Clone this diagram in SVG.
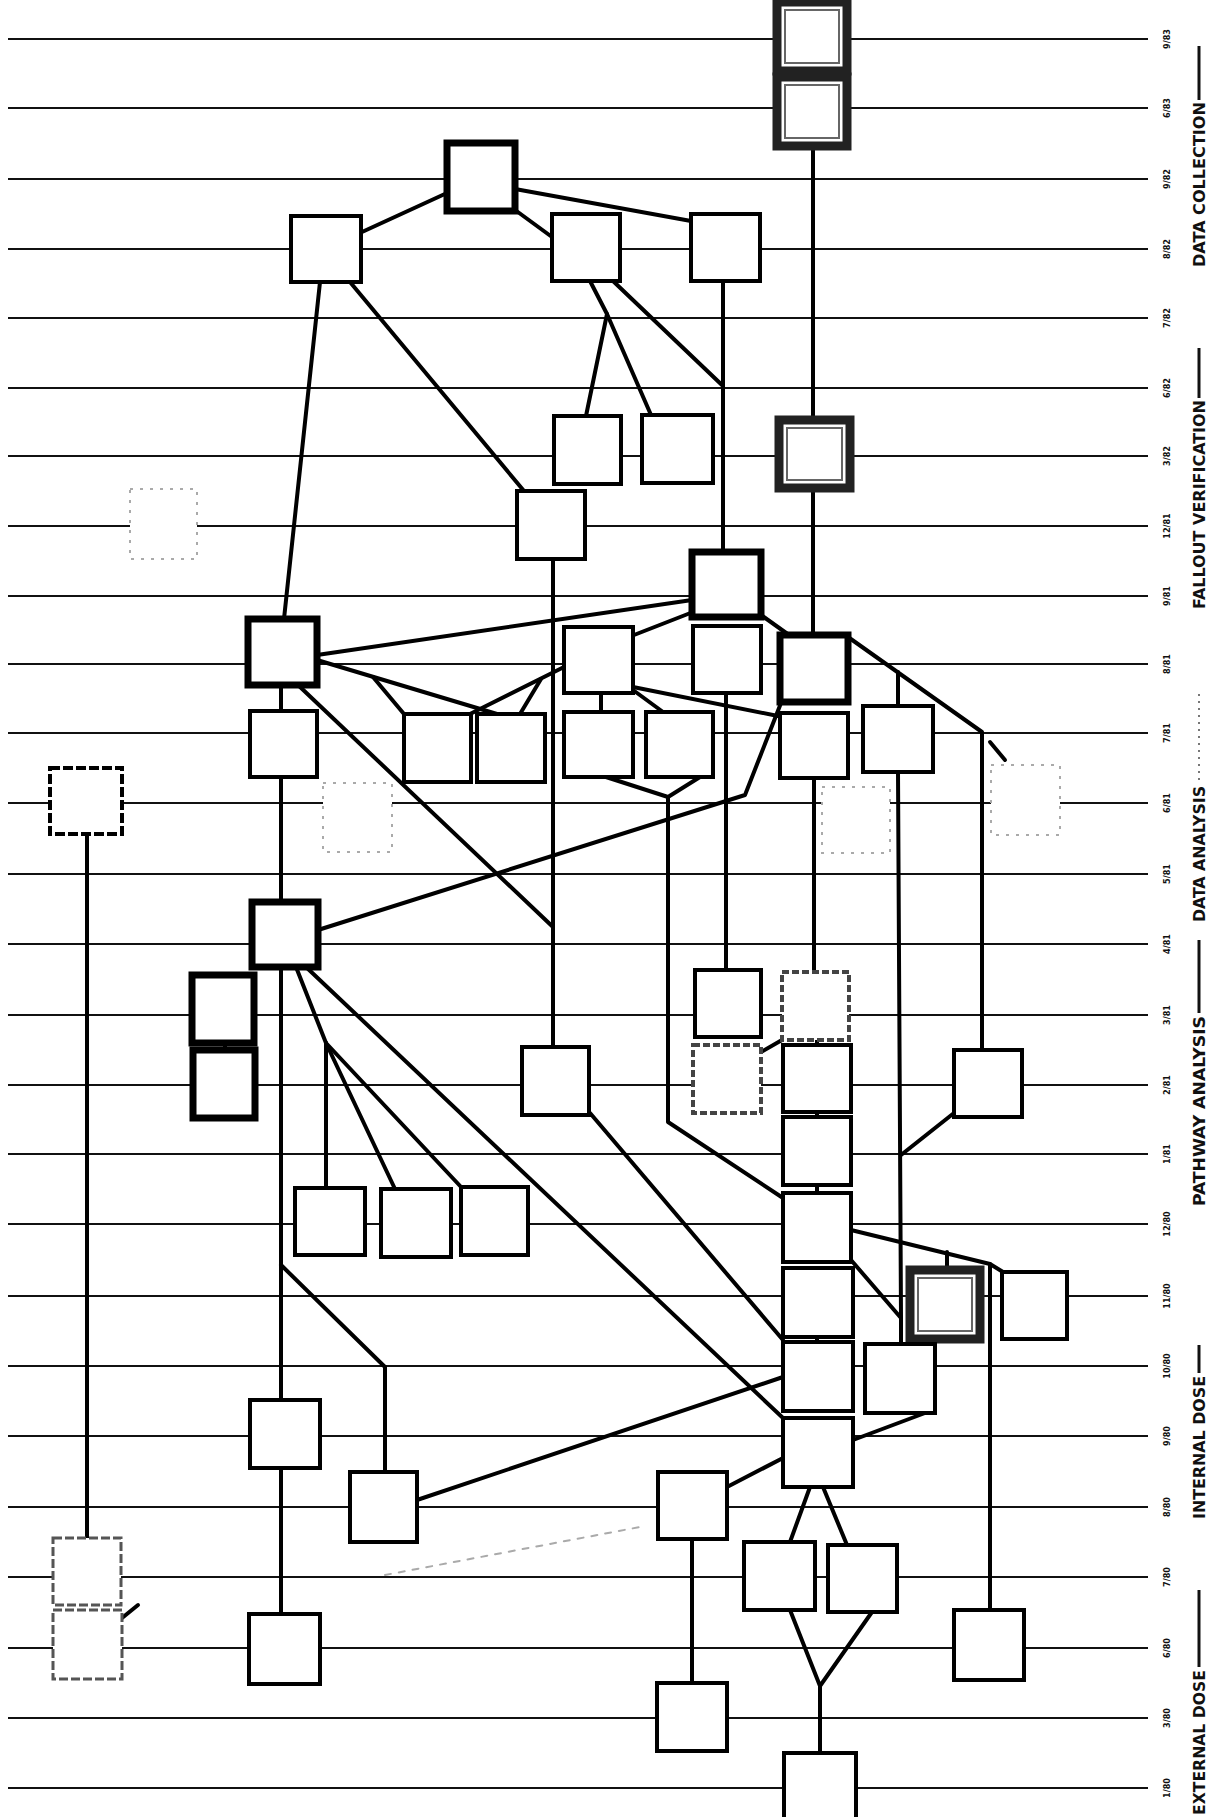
<svg xmlns="http://www.w3.org/2000/svg" width="1215" height="1817" viewBox="0 0 1215 1817">
<style>
.grid{stroke:#111;stroke-width:2}
.conn{stroke:#000;stroke-width:4;fill:none;stroke-linejoin:round;stroke-linecap:round}
.box{fill:#fff;stroke:#000;stroke-width:4}
.heavy{fill:#fff;stroke:#000;stroke-width:7}
.dbl{fill:#fff;stroke:#222;stroke-width:9}
.dblin{fill:none;stroke:#666;stroke-width:2}
.gdash{fill:#fff;stroke:#444;stroke-width:4;stroke-dasharray:7 3}
.light{fill:#fff;stroke:#555;stroke-width:3;stroke-dasharray:9 3}
.faint{fill:#fff;stroke:#aaa;stroke-width:2;stroke-dasharray:3 7}
.tick{font-family:"Liberation Sans Narrow","DejaVu Sans Condensed","Liberation Sans",sans-serif;font-weight:bold;font-size:9px;fill:#111}
.sec{font-family:"Liberation Sans Narrow","DejaVu Sans Condensed","Liberation Sans",sans-serif;font-weight:bold;font-size:16px;fill:#111}
</style>
<rect width="1215" height="1817" fill="#fff"/>
<g id="grid">
<line class="grid" x1="8" y1="39" x2="1148" y2="39"/>
<line class="grid" x1="8" y1="108" x2="1148" y2="108"/>
<line class="grid" x1="8" y1="179" x2="1148" y2="179"/>
<line class="grid" x1="8" y1="249" x2="1148" y2="249"/>
<line class="grid" x1="8" y1="318" x2="1148" y2="318"/>
<line class="grid" x1="8" y1="388" x2="1148" y2="388"/>
<line class="grid" x1="8" y1="456" x2="1148" y2="456"/>
<line class="grid" x1="8" y1="526" x2="1148" y2="526"/>
<line class="grid" x1="8" y1="596" x2="1148" y2="596"/>
<line class="grid" x1="8" y1="664" x2="1148" y2="664"/>
<line class="grid" x1="8" y1="733" x2="1148" y2="733"/>
<line class="grid" x1="8" y1="803" x2="1148" y2="803"/>
<line class="grid" x1="8" y1="874" x2="1148" y2="874"/>
<line class="grid" x1="8" y1="944" x2="1148" y2="944"/>
<line class="grid" x1="8" y1="1015" x2="1148" y2="1015"/>
<line class="grid" x1="8" y1="1085" x2="1148" y2="1085"/>
<line class="grid" x1="8" y1="1154" x2="1148" y2="1154"/>
<line class="grid" x1="8" y1="1224" x2="1148" y2="1224"/>
<line class="grid" x1="8" y1="1296" x2="1148" y2="1296"/>
<line class="grid" x1="8" y1="1366" x2="1148" y2="1366"/>
<line class="grid" x1="8" y1="1436" x2="1148" y2="1436"/>
<line class="grid" x1="8" y1="1507" x2="1148" y2="1507"/>
<line class="grid" x1="8" y1="1577" x2="1148" y2="1577"/>
<line class="grid" x1="8" y1="1648" x2="1148" y2="1648"/>
<line class="grid" x1="8" y1="1718" x2="1148" y2="1718"/>
<line class="grid" x1="8" y1="1788" x2="1148" y2="1788"/>
</g>
<g id="ticks" class="tick" text-anchor="middle">
<text transform="translate(1170,39) rotate(-90)">9/83</text>
<text transform="translate(1170,108) rotate(-90)">6/83</text>
<text transform="translate(1170,179) rotate(-90)">9/82</text>
<text transform="translate(1170,249) rotate(-90)">8/82</text>
<text transform="translate(1170,318) rotate(-90)">7/82</text>
<text transform="translate(1170,388) rotate(-90)">6/82</text>
<text transform="translate(1170,456) rotate(-90)">3/82</text>
<text transform="translate(1170,526) rotate(-90)">12/81</text>
<text transform="translate(1170,596) rotate(-90)">9/81</text>
<text transform="translate(1170,664) rotate(-90)">8/81</text>
<text transform="translate(1170,733) rotate(-90)">7/81</text>
<text transform="translate(1170,803) rotate(-90)">6/81</text>
<text transform="translate(1170,874) rotate(-90)">5/81</text>
<text transform="translate(1170,944) rotate(-90)">4/81</text>
<text transform="translate(1170,1015) rotate(-90)">3/81</text>
<text transform="translate(1170,1085) rotate(-90)">2/81</text>
<text transform="translate(1170,1154) rotate(-90)">1/81</text>
<text transform="translate(1170,1224) rotate(-90)">12/80</text>
<text transform="translate(1170,1296) rotate(-90)">11/80</text>
<text transform="translate(1170,1366) rotate(-90)">10/80</text>
<text transform="translate(1170,1436) rotate(-90)">9/80</text>
<text transform="translate(1170,1507) rotate(-90)">8/80</text>
<text transform="translate(1170,1577) rotate(-90)">7/80</text>
<text transform="translate(1170,1648) rotate(-90)">6/80</text>
<text transform="translate(1170,1718) rotate(-90)">3/80</text>
<text transform="translate(1170,1788) rotate(-90)">1/80</text>
</g>
<g id="phases" class="sec">
<text transform="translate(1205,267) rotate(-90)" textLength="165" lengthAdjust="spacingAndGlyphs">DATA COLLECTION</text>
<line x1="1199" y1="100" x2="1199" y2="46" stroke="#111" stroke-width="3"/>
<text transform="translate(1205,609) rotate(-90)" textLength="209" lengthAdjust="spacingAndGlyphs">FALLOUT VERIFICATION</text>
<line x1="1199" y1="398" x2="1199" y2="348" stroke="#111" stroke-width="3"/>
<text transform="translate(1205,922) rotate(-90)" textLength="136" lengthAdjust="spacingAndGlyphs">DATA ANALYSIS</text>
<line x1="1199" y1="780" x2="1199" y2="690" stroke="#777" stroke-width="2" stroke-dasharray="2 5"/>
<text transform="translate(1205,1206) rotate(-90)" textLength="190" lengthAdjust="spacingAndGlyphs">PATHWAY ANALYSIS</text>
<line x1="1199" y1="1013" x2="1199" y2="940" stroke="#111" stroke-width="3"/>
<text transform="translate(1205,1519) rotate(-90)" textLength="143" lengthAdjust="spacingAndGlyphs">INTERNAL DOSE</text>
<line x1="1199" y1="1373" x2="1199" y2="1345" stroke="#111" stroke-width="3"/>
<text transform="translate(1205,1815) rotate(-90)" textLength="145" lengthAdjust="spacingAndGlyphs">EXTERNAL DOSE</text>
<line x1="1199" y1="1667" x2="1199" y2="1590" stroke="#111" stroke-width="3"/>
</g>
<g id="connectors" class="conn">
<line x1="447" y1="193" x2="362" y2="232"/>
<line x1="515" y1="189" x2="691" y2="221"/>
<line x1="511" y1="207" x2="552" y2="237"/>
<line x1="320" y1="282" x2="284" y2="619"/>
<line x1="350" y1="282" x2="524" y2="491"/>
<polyline points="590,281 607,314 586,416"/>
<line x1="607" y1="314" x2="651" y2="415"/>
<line x1="613" y1="281" x2="723" y2="386"/>
<line x1="723" y1="281" x2="723" y2="552"/>
<line x1="813" y1="146" x2="813" y2="420"/>
<line x1="813" y1="488" x2="813" y2="635"/>
<line x1="553" y1="559" x2="553" y2="1047"/>
<line x1="317" y1="655" x2="692" y2="600"/>
<line x1="317" y1="660" x2="497" y2="714"/>
<line x1="373" y1="677" x2="404" y2="714"/>
<line x1="564" y1="667" x2="470" y2="714"/>
<line x1="541" y1="679" x2="520" y2="714"/>
<line x1="693" y1="612" x2="634" y2="635"/>
<line x1="761" y1="615" x2="789" y2="635"/>
<line x1="601" y1="693" x2="601" y2="712"/>
<line x1="633" y1="690" x2="663" y2="712"/>
<line x1="633" y1="687" x2="778" y2="716"/>
<line x1="298" y1="685" x2="553" y2="927"/>
<line x1="281" y1="685" x2="281" y2="711"/>
<line x1="281" y1="777" x2="281" y2="902"/>
<line x1="281" y1="967" x2="281" y2="1400"/>
<line x1="281" y1="1468" x2="281" y2="1614"/>
<polyline points="318,930 745,795 781,703"/>
<polyline points="848,637 982,732 982,1050"/>
<line x1="898" y1="672" x2="898" y2="706"/>
<line x1="990" y1="742" x2="1005" y2="760"/>
<polyline points="606,777 668,797 700,777"/>
<polyline points="668,797 668,1122 783,1198"/>
<line x1="726" y1="693" x2="726" y2="970"/>
<line x1="814" y1="778" x2="814" y2="972"/>
<line x1="817" y1="1040" x2="817" y2="1045"/>
<line x1="817" y1="1112" x2="817" y2="1117"/>
<line x1="817" y1="1185" x2="817" y2="1193"/>
<line x1="817" y1="1337" x2="817" y2="1342"/>
<polyline points="898,772 901,1318 901,1344"/>
<line x1="954" y1="1113" x2="901" y2="1155"/>
<polyline points="851,1230 990,1264 990,1610"/>
<line x1="990" y1="1264" x2="1003" y2="1272"/>
<line x1="947" y1="1252" x2="947" y2="1270"/>
<line x1="851" y1="1260" x2="901" y2="1318"/>
<line x1="590" y1="1113" x2="783" y2="1340"/>
<line x1="761" y1="1052" x2="782" y2="1040"/>
<line x1="296" y1="967" x2="326" y2="1043"/>
<line x1="326" y1="1043" x2="326" y2="1188"/>
<line x1="326" y1="1043" x2="395" y2="1189"/>
<line x1="326" y1="1043" x2="462" y2="1188"/>
<line x1="306" y1="967" x2="783" y2="1418"/>
<polyline points="281,1265 385,1367 385,1472"/>
<line x1="417" y1="1500" x2="783" y2="1377"/>
<line x1="853" y1="1440" x2="925" y2="1413"/>
<line x1="727" y1="1487" x2="783" y2="1458"/>
<line x1="810" y1="1487" x2="790" y2="1542"/>
<line x1="823" y1="1487" x2="847" y2="1545"/>
<polyline points="790,1610 820,1686 872,1612"/>
<line x1="820" y1="1686" x2="820" y2="1753"/>
<line x1="692" y1="1539" x2="692" y2="1683"/>
<line x1="87" y1="834" x2="87" y2="1538"/>
<line x1="122" y1="1618" x2="138" y2="1605"/>
<line x1="225" y1="1043" x2="225" y2="1050"/>
<line x1="385" y1="1575" x2="640" y2="1527" stroke="#aaa" stroke-width="2" stroke-dasharray="6 8"/>
</g>
<g id="nodes">
<g id="A"><rect class="dbl" x="777" y="2" width="70" height="69"/><rect class="dblin" x="785" y="10" width="54" height="53"/></g>
<g id="B"><rect class="dbl" x="777" y="77" width="70" height="69"/><rect class="dblin" x="785" y="85" width="54" height="53"/></g>
<g id="C"><rect class="heavy" x="447" y="143" width="68" height="68"/></g>
<g id="D"><rect class="box" x="291" y="216" width="70" height="66"/></g>
<g id="E"><rect class="box" x="552" y="214" width="68" height="67"/></g>
<g id="F"><rect class="box" x="691" y="214" width="69" height="67"/></g>
<g id="G"><rect class="box" x="554" y="416" width="67" height="68"/></g>
<g id="H"><rect class="box" x="642" y="415" width="71" height="68"/></g>
<g id="I"><rect class="dbl" x="779" y="420" width="71" height="68"/><rect class="dblin" x="787" y="428" width="55" height="52"/></g>
<g id="J"><rect class="box" x="517" y="491" width="68" height="68" stroke="#777"/></g>
<g id="K"><rect class="faint" x="130" y="489" width="67" height="70"/></g>
<g id="L"><rect class="heavy" x="692" y="552" width="69" height="65"/></g>
<g id="M"><rect class="heavy" x="248" y="619" width="69" height="66"/></g>
<g id="N"><rect class="box" x="564" y="627" width="69" height="66"/></g>
<g id="O"><rect class="box" x="693" y="626" width="68" height="67"/></g>
<g id="P"><rect class="heavy" x="780" y="635" width="68" height="67"/></g>
<g id="W"><rect class="box" x="250" y="711" width="67" height="66"/></g>
<g id="Q"><rect class="box" x="404" y="714" width="67" height="68"/></g>
<g id="R"><rect class="box" x="477" y="714" width="68" height="68"/></g>
<g id="S"><rect class="box" x="564" y="712" width="69" height="65"/></g>
<g id="T"><rect class="box" x="646" y="712" width="67" height="65"/></g>
<g id="U"><rect class="box" x="780" y="713" width="68" height="65"/></g>
<g id="V"><rect class="box" x="863" y="706" width="70" height="66"/></g>
<g id="X"><rect class="box" x="50" y="768" width="72" height="66" stroke-dasharray="10 3"/></g>
<g id="Y"><rect class="faint" x="323" y="783" width="69" height="69"/></g>
<g id="Z"><rect class="faint" x="822" y="787" width="68" height="66"/></g>
<g id="AA"><rect class="faint" x="991" y="765" width="69" height="70"/></g>
<g id="BB"><rect class="heavy" x="252" y="902" width="66" height="65"/></g>
<g id="CC"><rect class="heavy" x="192" y="975" width="62" height="68"/></g>
<g id="DD"><rect class="heavy" x="193" y="1050" width="62" height="68"/></g>
<g id="EE"><rect class="box" x="695" y="970" width="66" height="67"/></g>
<g id="FF"><rect class="gdash" x="782" y="972" width="67" height="68"/></g>
<g id="GG"><rect class="gdash" x="693" y="1045" width="68" height="68"/></g>
<g id="HH"><rect class="box" x="783" y="1045" width="68" height="67"/></g>
<g id="II"><rect class="box" x="522" y="1047" width="67" height="68"/></g>
<g id="JJ"><rect class="box" x="954" y="1050" width="68" height="67"/></g>
<g id="KK"><rect class="box" x="783" y="1117" width="68" height="68"/></g>
<g id="LL"><rect class="box" x="295" y="1188" width="70" height="67"/></g>
<g id="MM"><rect class="box" x="381" y="1189" width="70" height="68"/></g>
<g id="NN"><rect class="box" x="461" y="1187" width="67" height="68"/></g>
<g id="OO"><rect class="box" x="783" y="1193" width="68" height="69"/></g>
<g id="PP"><rect class="box" x="783" y="1268" width="70" height="69"/></g>
<g id="QQ"><rect class="dbl" x="910" y="1270" width="70" height="69" stroke="#333"/><rect class="dblin" x="918" y="1278" width="54" height="53"/></g>
<g id="RR"><rect class="box" x="1002" y="1272" width="65" height="67"/></g>
<g id="SS"><rect class="box" x="783" y="1342" width="70" height="69"/></g>
<g id="TT"><rect class="box" x="865" y="1344" width="70" height="69"/></g>
<g id="UU"><rect class="box" x="250" y="1400" width="70" height="68"/></g>
<g id="VV"><rect class="box" x="783" y="1418" width="70" height="69"/></g>
<g id="WW"><rect class="box" x="658" y="1472" width="69" height="67"/></g>
<g id="XX"><rect class="box" x="350" y="1472" width="67" height="70"/></g>
<g id="YY"><rect class="box" x="744" y="1542" width="71" height="68"/></g>
<g id="ZZ"><rect class="box" x="828" y="1545" width="69" height="67"/></g>
<g id="AB"><rect class="light" x="53" y="1538" width="68" height="67"/></g>
<g id="AC"><rect class="light" x="53" y="1610" width="69" height="69"/></g>
<g id="AD"><rect class="box" x="249" y="1614" width="71" height="70"/></g>
<g id="AE"><rect class="box" x="954" y="1610" width="70" height="70"/></g>
<g id="AF"><rect class="box" x="657" y="1683" width="70" height="68"/></g>
<g id="AG"><rect class="box" x="784" y="1753" width="72" height="66"/></g>
</g>
</svg>
